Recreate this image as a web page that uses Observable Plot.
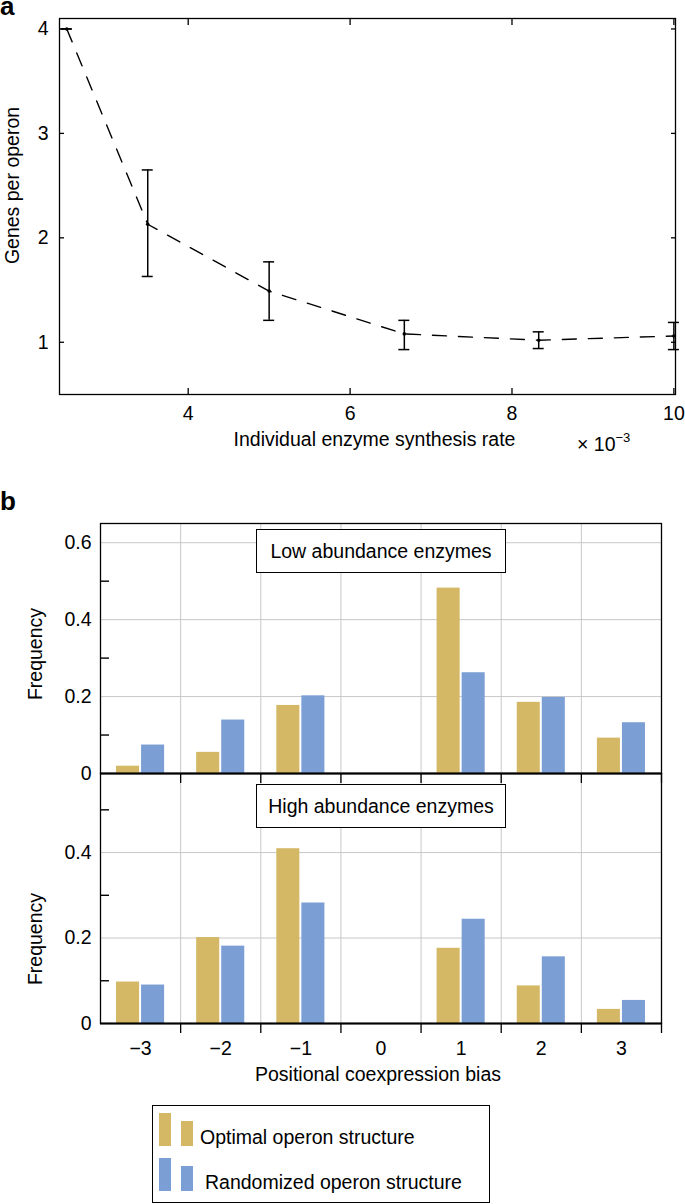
<!DOCTYPE html>
<html><head><meta charset="utf-8">
<script src="https://cdn.jsdelivr.net/npm/d3@7"></script>
<script src="https://cdn.jsdelivr.net/npm/@observablehq/plot@0.6"></script>
<style>
body{margin:0;background:#fff;font-family:"Liberation Sans",Arial,Helvetica,sans-serif;color:#000;}
#root{position:relative;width:685px;height:1204px;overflow:hidden;}
#root svg{position:absolute;left:0;overflow:visible;}
.plab{position:absolute;font-weight:bold;font-size:26px;line-height:12px;}
.box{position:absolute;border:1.3px solid #000;background:#fff;font-size:19.5px;display:flex;align-items:center;justify-content:center;box-sizing:border-box;}
.txt{position:absolute;font-size:19.5px;white-space:nowrap;line-height:1;}
.sw{position:absolute;}
</style></head>
<body><div id="root"></div>
<script>
// ---- Panel a data ----
const rates = [2.5, 3.5, 5, 6.67, 8.33, 10];          // ×10^-3
const genesMean = [4, 2.13, 1.49, 1.08, 1.02, 1.06];
const genesLow  = [4, 1.63, 1.21, 0.93, 0.94, 0.93];
const genesHigh = [4, 2.65, 1.77, 1.21, 1.10, 1.19];
const xTicksA = [4, 6, 8, 10];
const yTicksA = [1, 2, 3, 4];

// ---- Panel b data ----
const biases = [-3, -2, -1, 0, 1, 2, 3];
const lowOptimal  = [0.019, 0.055, 0.177, 0, 0.482, 0.185, 0.092];
const lowRandom   = [0.074, 0.139, 0.202, 0, 0.262, 0.198, 0.132];
const highOptimal = [0.097, 0.201, 0.409, 0, 0.176, 0.088, 0.033];
const highRandom  = [0.090, 0.181, 0.282, 0, 0.244, 0.156, 0.054];
const seriesNames = ["Optimal operon structure", "Randomized operon structure"];
const seriesColors = ["#d4b865", "#7b9fd4"];
const boundaries = [-2.5, -1.5, -0.5, 0.5, 1.5, 2.5];
const outerTicks = [-2.5, -1.5, -0.5, 0.5, 1.5, 2.5, 3.5];

const FONT = '"Liberation Sans", Arial, Helvetica, sans-serif';
const root = document.getElementById("root");

function place(el, top) { el.style.top = top + "px"; root.appendChild(el); }
function addDiv(cls, html, css) {
  const d = document.createElement("div");
  d.className = cls; d.innerHTML = html;
  Object.assign(d.style, css);
  root.appendChild(d);
  return d;
}

// ---------- Panel a ----------
const aData = rates.map((r, i) => ({rate: r, mean: genesMean[i], lo: genesLow[i], hi: genesHigh[i]}));
const plotA = Plot.plot({
  width: 685, height: 460,
  marginLeft: 59, marginRight: 10, marginTop: 18, marginBottom: 66,
  style: {fontFamily: FONT, fontSize: "19.5px", color: "#000", background: "transparent", overflow: "visible"},
  x: {domain: [2.41, 10.02]},
  y: {domain: [0.5, 4.1]},
  marks: [
    Plot.line(aData, {x: "rate", y: "mean", stroke: "#000", strokeWidth: 1.4, strokeDasharray: "14,12"}),
    Plot.ruleX(aData, {x: "rate", y1: "lo", y2: "hi", stroke: "#000", strokeWidth: 1.5}),
    Plot.ruleY(aData, {y: "lo", x1: "rate", x2: "rate", insetLeft: -5.5, insetRight: -5.5, stroke: "#000", strokeWidth: 1.5}),
    Plot.ruleY(aData, {y: "hi", x1: "rate", x2: "rate", insetLeft: -5.5, insetRight: -5.5, stroke: "#000", strokeWidth: 1.5}),
    Plot.dot(aData, {x: "rate", y: "mean", r: 1.8, fill: "#000", stroke: null}),
    Plot.axisX(xTicksA, {anchor: "bottom", tickSize: -6, tickPadding: 18, label: null, strokeWidth: 1.3, tickFormat: d => String(d)}),
    Plot.axisX(xTicksA, {anchor: "top", tickSize: -6, tickFormat: () => "", label: null, strokeWidth: 1.3}),
    Plot.axisY(yTicksA, {anchor: "left", tickSize: -5, tickPadding: 16, label: null, strokeWidth: 1.3, tickFormat: d => String(d)}),
    Plot.axisY(yTicksA, {anchor: "right", tickSize: -5, tickFormat: () => "", label: null, strokeWidth: 1.3}),
    Plot.frame({stroke: "#000", strokeWidth: 1.3}),
    Plot.text(["Individual enzyme synthesis rate"], {text: d => d, frameAnchor: "bottom", dx: 7, dy: 51, fontSize: 19.5}),
    Plot.text(["Genes per operon"], {text: d => d, frameAnchor: "left", textAnchor: "middle", rotate: -90, dx: -47, dy: -21, fontSize: 19.5})
  ]
});
place(plotA, 0);
addDiv("plab", "a", {left: "0px", top: "0px"});
addDiv("txt", "× 10<sup style='font-size:13px;vertical-align:9px'>−3</sup>", {left: "577px", top: "431px"});

// ---------- Panel b ----------
function barsFor(opt, rnd) {
  const out = [];
  biases.forEach((b, i) => {
    if (opt[i] > 0) out.push({bias: b, series: seriesNames[0], value: opt[i]});
    if (rnd[i] > 0) out.push({bias: b, series: seriesNames[1], value: rnd[i]});
  });
  return out;
}
const colorScale = {domain: seriesNames, range: seriesColors};
const barHalf = 0.3;

function panelB({data, yMax, yLabels, grid, minor, bottomLabels, height, marginTop, marginBottom}) {
  const opt = data.filter(d => d.series === seriesNames[0]);
  const rnd = data.filter(d => d.series === seriesNames[1]);
  const marks = [
    Plot.gridY(grid, {stroke: "#c8c8c8", strokeOpacity: 1, strokeWidth: 1}),
    Plot.gridX(boundaries, {stroke: "#c8c8c8", strokeOpacity: 1, strokeWidth: 1}),
    Plot.rectY(opt, {x1: d => d.bias - barHalf, x2: "bias", y: "value", fill: "series", insetRight: 1}),
    Plot.rectY(rnd, {x1: "bias", x2: d => d.bias + barHalf, y: "value", fill: "series", insetLeft: 1}),
    Plot.axisY(yLabels, {anchor: "left", tickSize: 0, tickPadding: 9, label: null, tickFormat: d => String(d)}),
    Plot.axisY(minor, {anchor: "left", tickSize: -9, tickFormat: () => "", label: null, strokeWidth: 1.4}),
    Plot.axisX(outerTicks, {anchor: "bottom", tickSize: 10, tickFormat: () => "", label: null, strokeWidth: 1.3}),
    Plot.frame({stroke: "#000", strokeWidth: 1.3}),
    Plot.ruleY([0], {stroke: "#000", strokeWidth: 1.8})
  ];
  if (bottomLabels) {
    marks.push(Plot.axisX(biases, {anchor: "bottom", tickSize: 0, tickPadding: 18, label: null,
      tickFormat: d => d < 0 ? "−" + Math.abs(d) : String(d)}));
    marks.push(Plot.text(["Positional coexpression bias"], {text: d => d, frameAnchor: "bottom", dx: -3, dy: 57, fontSize: 19.5}));
  }
  return Plot.plot({
    width: 685, height,
    marginLeft: 100, marginRight: 24, marginTop, marginBottom,
    style: {fontFamily: FONT, fontSize: "19.5px", color: "#000", background: "transparent", overflow: "visible"},
    x: {domain: [-3.5, 3.5]},
    y: {domain: [0, yMax]},
    color: colorScale,
    marks
  });
}

const lowData = barsFor(lowOptimal, lowRandom);
const highData = barsFor(highOptimal, highRandom);

const plotLow = panelB({data: lowData, yMax: 0.65, yLabels: [0, 0.2, 0.4, 0.6], grid: [0.2, 0.4, 0.6],
  minor: [0.1, 0.3, 0.5], bottomLabels: false, height: 295, marginTop: 33, marginBottom: 12});
const plotHigh = panelB({data: highData, yMax: 0.585, yLabels: [0, 0.2, 0.4], grid: [0.2, 0.4],
  minor: [0.1, 0.3, 0.5], bottomLabels: true, height: 353, marginTop: 13, marginBottom: 90});
place(plotHigh, 760);
place(plotLow, 490);

addDiv("plab", "b", {left: "0px", top: "495px"});
addDiv("txt", "Frequency", {left: "36px", top: "654px", transform: "translate(-50%,-50%) rotate(-90deg)"});
addDiv("txt", "Frequency", {left: "36px", top: "939px", transform: "translate(-50%,-50%) rotate(-90deg)"});
addDiv("box", "Low abundance enzymes", {left: "256px", top: "529px", width: "250px", height: "44px"});
addDiv("box", "High abundance enzymes", {left: "256px", top: "784px", width: "250px", height: "44px"});

// ---------- Legend ----------
addDiv("box", "", {left: "152px", top: "1105px", width: "338px", height: "98px"});
const legendRows = [{top: 1113}, {top: 1158}];
seriesNames.forEach((name, i) => {
  const t = legendRows[i].top;
  addDiv("sw", "", {left: "159px", top: t + "px", width: "12px", height: "33px", background: seriesColors[i]});
  addDiv("sw", "", {left: "181px", top: (t + 8) + "px", width: "12px", height: "25px", background: seriesColors[i]});
  addDiv("txt", name, {left: (i === 0 ? 200 : 205) + "px", top: (t + 15) + "px"});
});
</script>
</body></html>
